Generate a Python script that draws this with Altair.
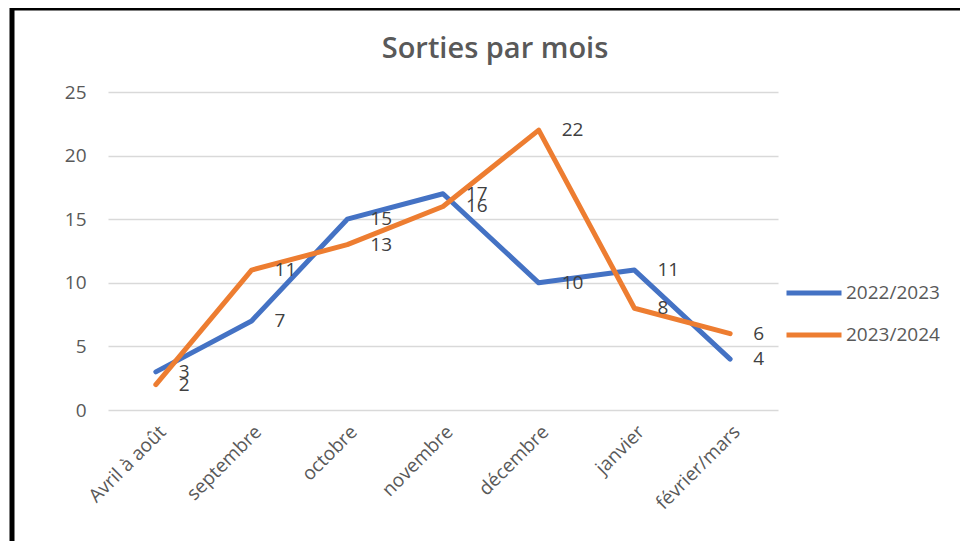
import altair as alt
import pandas as pd

categories = ["Avril à août", "septembre", "octobre", "novembre", "décembre", "janvier", "février/mars"]
series_names = ["2022/2023", "2023/2024"]
values_2022 = [3, 7, 15, 17, 10, 11, 4]
values_2023 = [2, 11, 13, 16, 22, 8, 6]
colors = ["#4472C4", "#ED7D31"]
y_ticks = [0, 5, 10, 15, 20, 25]

rows = []
for name, vals in zip(series_names, [values_2022, values_2023]):
    for c, v in zip(categories, vals):
        rows.append({"mois": c, "serie": name, "sorties": v})
df = pd.DataFrame(rows)

FONT = "Open Sans"

x_enc = alt.X("mois:N", sort=categories, scale=alt.Scale(type="point", padding=0.5),
              axis=alt.Axis(title=None, labelAngle=-45, labelAlign="right", labelBaseline="top",
                            labelPadding=12, ticks=False, domain=False, grid=False,
                            labelColor="#595959", labelFontSize=19, labelFont=FONT))
y_enc = alt.Y("sorties:Q", scale=alt.Scale(domain=[0, 25], nice=False),
              axis=alt.Axis(title=None, values=y_ticks, ticks=False, domain=False,
                            gridColor="#D9D9D9", gridWidth=1.5, labelPadding=22,
                            labelColor="#595959", labelFontSize=19, labelFont=FONT))
color_enc = alt.Color("serie:N", scale=alt.Scale(domain=series_names, range=colors),
                      legend=alt.Legend(title=None, orient="none", legendX=676, legendY=171,
                                        symbolType="stroke", symbolStrokeWidth=5, symbolSize=3025,
                                        labelFontSize=19, labelColor="#595959", labelFont=FONT,
                                        labelOffset=2, rowPadding=2))

base = alt.Chart(df)
lines = base.mark_line(strokeWidth=5, strokeCap="round", strokeJoin="round").encode(
    x=x_enc, y=y_enc, color=color_enc
)
labels = base.mark_text(align="left", baseline="middle", dx=23, fontSize=19,
                        font=FONT, color="#404040").encode(
    x=alt.X("mois:N", sort=categories), y="sorties:Q", text="sorties:Q"
)

frame_data = alt.Data(values=[{"k": 1}])
frame_top = alt.Chart(frame_data).mark_rule(color="black", strokeWidth=5).encode(
    x=alt.value(-98), x2=alt.value(900), y=alt.value(-84)
)
frame_left = alt.Chart(frame_data).mark_rule(color="black", strokeWidth=5).encode(
    x=alt.value(-96), y=alt.value(-86), y2=alt.value(460)
)

chart = alt.layer(lines, labels, frame_top, frame_left).properties(
    width=670, height=318,
    padding={"left": 100, "top": 84, "right": 182, "bottom": 131},
    autosize=alt.AutoSizeParams(type="none"),
    title=alt.TitleParams("Sorties par mois", fontSize=29, font=FONT, fontWeight=600,
                          color="#595959", anchor="middle", frame="group", baseline="alphabetic",
                          offset=0, dy=83, dx=52),
).configure(background="white").configure_view(stroke=None)

chart.save("out.html", embed_options={"renderer": "svg", "actions": False})
